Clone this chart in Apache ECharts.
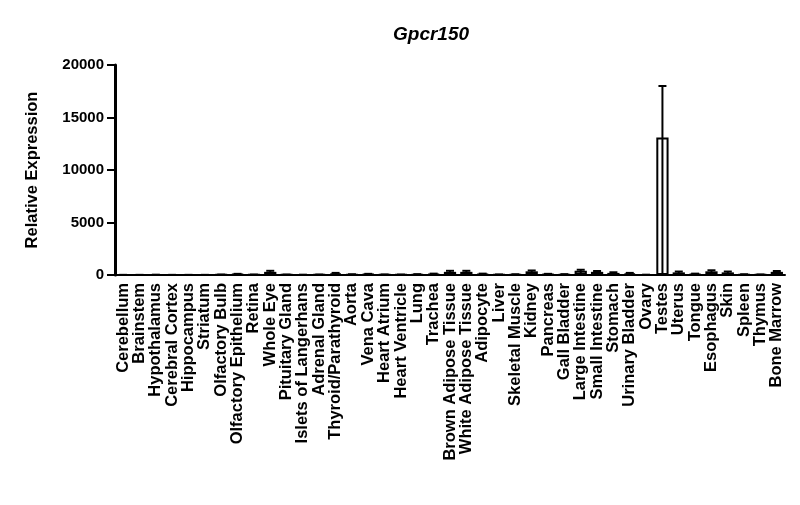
<!DOCTYPE html>
<html>
<head>
<meta charset="utf-8">
<script src="https://cdn.jsdelivr.net/npm/echarts@6/dist/echarts.min.js"></script>
<style>
html, body { margin: 0; padding: 0; background: #fff; }
#chart { width: 800px; height: 505px; }
</style>
</head>
<body>
<div id="chart"></div>
<script>
var tissues = ['Cerebellum', 'Brainstem', 'Hypothalamus', 'Cerebral Cortex', 'Hippocampus', 'Striatum',
    'Olfactory Bulb', 'Olfactory Epithelium', 'Retina', 'Whole Eye', 'Pituitary Gland', 'Islets of Langerhans',
    'Adrenal Gland', 'Thyroid/Parathyroid', 'Aorta', 'Vena Cava', 'Heart Atrium', 'Heart Ventricle', 'Lung',
    'Trachea', 'Brown Adipose Tissue', 'White Adipose Tissue', 'Adipocyte', 'Liver', 'Skeletal Muscle', 'Kidney',
    'Pancreas', 'Gall Bladder', 'Large Intestine', 'Small Intestine', 'Stomach', 'Urinary Bladder', 'Ovary',
    'Testes', 'Uterus', 'Tongue', 'Esophagus', 'Skin', 'Spleen', 'Thymus', 'Bone Marrow'];
var expression = [10, 10, 20, 10, 10, 10, 30, 80, 30, 300, 30, 20, 30, 150, 50, 80, 40, 30, 60, 100,
    300, 300, 100, 40, 50, 350, 80, 60, 400, 300, 200, 150, 20, 13100, 250, 100, 350, 250, 50, 40, 300];
var sem = [5, 5, 10, 5, 5, 5, 10, 30, 10, 100, 10, 10, 10, 50, 20, 30, 10, 10, 20, 30,
    100, 100, 30, 10, 20, 80, 30, 20, 100, 80, 60, 50, 10, 4900, 80, 30, 100, 80, 20, 10, 80];
var yTicks = [0, 5000, 10000, 15000, 20000];

var errData = expression.map(function (v, i) {
    return [i, v, sem[i]];
});

var myChart = echarts.init(document.getElementById('chart'));
var font = 'Liberation Sans, Arial, sans-serif';

option = {
    animation: false,
    title: {
        text: 'Gpcr150',
        left: 388,
        top: 20,
        textStyle: {
            fontFamily: font,
            fontSize: 19,
            fontWeight: 'bold',
            fontStyle: 'italic',
            color: '#000'
        }
    },
    grid: {
        left: 115,
        right: 15,
        top: 65,
        bottom: 230
    },
    xAxis: {
        type: 'category',
        data: tissues,
        axisLine: { lineStyle: { color: '#000', width: 2 } },
        axisTick: { alignWithLabel: true, length: 6, lineStyle: { color: '#000', width: 2 } },
        axisLabel: {
            interval: 0,
            rotate: 90,
            margin: 8,
            color: '#000',
            fontFamily: font,
            fontWeight: 'bold',
            fontSize: 16.5
        }
    },
    yAxis: {
        type: 'value',
        min: yTicks[0],
        max: yTicks[yTicks.length - 1],
        interval: 5000,
        name: 'Relative Expression',
        nameLocation: 'middle',
        nameGap: 74,
        nameTextStyle: {
            fontFamily: font,
            fontWeight: 'bold',
            fontSize: 16.5,
            color: '#000'
        },
        splitLine: { show: false },
        axisLine: { show: true, lineStyle: { color: '#000', width: 3 } },
        axisTick: { show: true, length: 8, lineStyle: { color: '#000', width: 2 } },
        axisLabel: {
            margin: 11,
            color: '#000',
            fontFamily: font,
            fontWeight: 'bold',
            fontSize: 15,
            formatter: function (v) { return String(v); }
        }
    },
    series: [
        {
            type: 'bar',
            data: expression,
            barWidth: '75%',
            itemStyle: { color: '#fff', borderColor: '#000', borderWidth: 2 }
        },
        {
            type: 'custom',
            data: errData,
            z: 3,
            renderItem: function (params, api) {
                var idx = api.value(0);
                var top = api.coord([idx, api.value(1) + api.value(2)]);
                var base = api.coord([idx, 0]);
                var half = 4;
                return {
                    type: 'group',
                    children: [
                        {
                            type: 'line',
                            shape: { x1: top[0], y1: base[1], x2: top[0], y2: top[1] },
                            style: { stroke: '#000', lineWidth: 2 }
                        },
                        {
                            type: 'line',
                            shape: { x1: top[0] - half, y1: top[1], x2: top[0] + half, y2: top[1] },
                            style: { stroke: '#000', lineWidth: 2 }
                        }
                    ]
                };
            }
        }
    ]
};

myChart.setOption(option);
</script>
</body>
</html>
